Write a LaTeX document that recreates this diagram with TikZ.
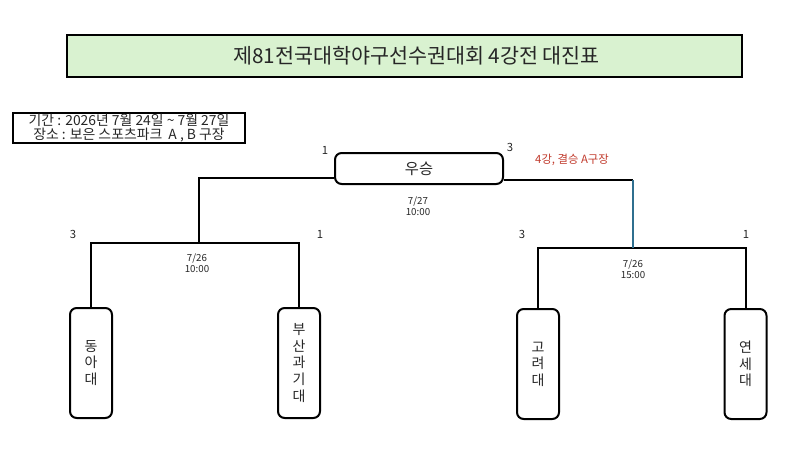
\documentclass[tikz,border=0pt]{standalone}
\usepackage{fontspec}
\setmainfont{Noto Sans CJK KR}
\definecolor{titlegreen}{HTML}{D9F2D0}
\definecolor{linkblue}{HTML}{2F6F8F}
\definecolor{notered}{HTML}{C0392B}
\definecolor{txt}{HTML}{262626}
\newcommand{\tightlines}{\lineskiplimit=-20pt\relax\lineskip=0pt\relax}
\begin{document}
\begin{tikzpicture}[x=0.75pt,y=-0.75pt,
  line/.style={line width=1.5pt},
  teambox/.style={draw,line width=1.5pt,rounded corners=5pt,minimum width=42*0.75pt,minimum height=110*0.75pt,inner sep=0pt,align=center,text=txt,font=\fontsize{10.5}{12.4}\selectfont\tightlines},
  seed/.style={font=\fontsize{8.5}{10}\selectfont,text=txt},
  timelbl/.style={font=\fontsize{7.3}{8.6}\selectfont\tightlines,align=center,text=txt},
]
\useasboundingbox (0,0) rectangle (800,460);
% title
\node[draw,line width=1.5pt,fill=titlegreen,minimum width=675*0.75pt,minimum height=42*0.75pt,inner sep=0pt,text=txt,font=\fontsize{15.5}{17}\selectfont] (title) at (404.5,56) {\hspace*{18pt}제81전국대학야구선수권대회 4강전 대진표};
% info
\node[draw,line width=1.2pt,minimum width=232*0.75pt,minimum height=30*0.75pt,inner sep=0pt,align=center,text=txt,font=\fontsize{10.4}{10.4}\selectfont\tightlines] (info) at (129,128) {기간 : 2026년 7월 24일 \textasciitilde{} 7월 27일\\장소 : 보은 스포츠파크 \ A , B 구장};
% winner
\node[draw,line width=1.5pt,rounded corners=5pt,minimum width=168*0.75pt,minimum height=31*0.75pt,inner sep=0pt,text=txt,font=\fontsize{11.5}{13}\selectfont] (win) at (419,168.5) {우승};
\node[seed] (w1) at (325,150) {1};
\node[seed] (w3) at (510,147) {3};
\node[font=\fontsize{8.5}{9}\selectfont,text=notered] (note) at (572,160) {4강, 결승 A구장};
\node[timelbl] (t0) at (418,206) {7/27\\10:00};
% teams
\node[teambox] (dong) at (91,363) {동\\아\\대};
\node[teambox] (busan) at (299,363) {부\\산\\과\\기\\대};
\node[teambox] (korea) at (538,364) {고\\려\\대};
\node[teambox] (yonsei) at (745.5,364) {연\\세\\대};
% bracket coordinates
\coordinate (lj) at (199,243);
\coordinate (rj) at (633,248);
% left semifinal
\draw[line] (dong.north) -- (dong.north |- lj) -- (busan.north |- lj) -- (busan.north);
\draw[line] (lj) -- (lj |- 0,178) -- (win.west |- 0,178);
% right semifinal
\draw[line] (korea.north) -- (korea.north |- rj) -- (yonsei.north |- rj) -- (yonsei.north);
\draw[line] (win.east |- 0,180) -- (rj |- 0,180);
\draw[line width=1.5pt,linkblue] (rj |- 0,180) -- (rj);
\node[seed] (l3) at (73,234) {3};
\node[seed] (l1) at (320,234) {1};
\node[timelbl] (t1) at (197,263) {7/26\\10:00};
\node[seed] (r3) at (522,234) {3};
\node[seed] (r1) at (746,234) {1};
\node[timelbl] (t2) at (633,269) {7/26\\15:00};
\end{tikzpicture}
\end{document}
